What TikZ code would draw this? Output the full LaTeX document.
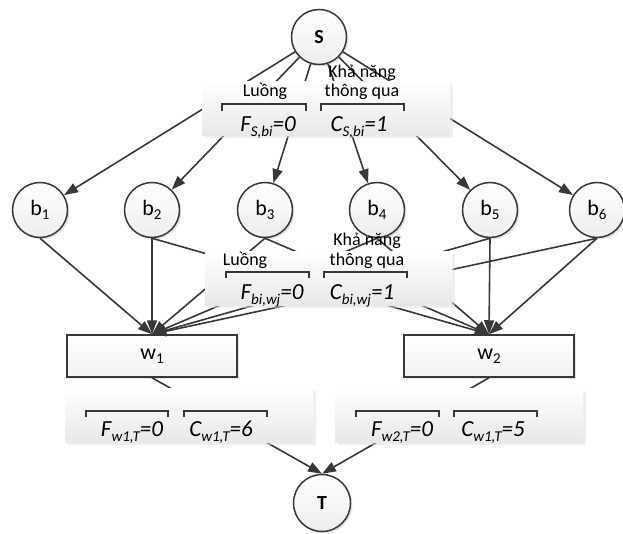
\documentclass[tikz,border=0pt]{standalone}
\usepackage{fontspec}
\setmainfont{Carlito}
\usetikzlibrary{arrows.meta,shadows}
\definecolor{ln}{HTML}{383838}
\newcommand\subx[1]{\raisebox{-5pt}{\fontsize{15}{15}\selectfont #1}}
\newcommand\subn[1]{\raisebox{-4pt}{\fontsize{15}{15}\selectfont #1}}
\begin{document}
\begin{tikzpicture}[x=1pt,y=-1pt,
  circ/.style={circle, draw=ln, line width=1.5pt, minimum size=55pt, inner sep=0pt,
    top color=white, bottom color=black!7,
    drop shadow={shadow xshift=2pt,shadow yshift=-2pt,fill=black!20},
    font=\fontsize{22}{22}\selectfont},
  wbox/.style={rectangle, draw=ln, line width=1.5pt, minimum width=170pt, minimum height=42pt,
    inner sep=0pt, top color=white, bottom color=black!5,
    drop shadow={shadow xshift=2pt,shadow yshift=-2pt,fill=black!20},
    font=\fontsize{22}{22}\selectfont},
  panel/.style={rectangle, inner sep=0pt, minimum width=248pt, minimum height=54pt,
    top color=white, bottom color=black!9,
    drop shadow={shadow xshift=2.5pt,shadow yshift=-2.5pt,fill=black!12}},
  edge/.style={draw=ln, line width=1.6pt, -{Triangle[length=14pt,width=10pt]}},
  brk/.style={draw=ln, line width=1.5pt},
  lbl/.style={font=\fontsize{18}{18}\selectfont, inner sep=0pt, anchor=base},
  val/.style={font=\fontsize{23}{23}\selectfont\itshape, inner sep=0pt, anchor=base}
]
\useasboundingbox (0,0) rectangle (623,534);

% nodes
\node[circ, font=\fontsize{20}{20}\selectfont\bfseries] (S) at (319,37) {S};
\node[circ] (b1) at (40,210) {b\subn{1}};
\node[circ] (b2) at (152,210) {b\subn{2}};
\node[circ] (b3) at (265,210) {b\subn{3}};
\node[circ] (b4) at (377,210) {b\subn{4}};
\node[circ] (b5) at (490,210) {b\subn{5}};
\node[circ] (b6) at (597,210) {b\subn{6}};
\node[wbox] (w1) at (152,356) {w\subn{1}};
\node[wbox] (w2) at (489,356) {w\subn{2}};
\node[circ, minimum size=57pt, font=\fontsize{20}{20}\selectfont\bfseries] (T) at (322,503) {T};

% edges S -> b
\foreach \i in {1,...,6} {\draw[edge] (S) -- (b\i);}
% edges b -> w
\foreach \i in {1,...,6} {\draw[edge] (b\i.south) -- (w1.north);}
\foreach \i in {2,...,6} {\draw[edge] (b\i.south) -- (w2.north);}
% edges w -> T
\draw[edge] (w1.south) -- (T.north);
\draw[edge] (w2.south) -- (T.north);

% panels
\node[panel] (p1) at (326,109) {};
\node[panel, minimum width=247pt, minimum height=53pt] (p2) at (328.5,278.5) {};
\node[panel] (p3) at (189,415) {};
\node[panel] (p4) at (459,415) {};

% top panel
\node[lbl] (t1) at (265,97) {Luồng};
\node[lbl] (t2) at (362,78) {Khả năng};
\node[lbl] (t3) at (362,97) {thông qua};
\draw[brk] (222,111) -- (222,104) -- (306,104) -- (306,111);
\draw[brk] (321,111) -- (321,104) -- (404,104) -- (404,111);
\node[val] (t4) at (268,132) {F\subx{S,bi}=0};
\node[val] (t5) at (359,132) {C\subx{S,bi}=1};

% middle panel
\node[lbl] (m1) at (245,266) {Luồng};
\node[lbl] (m2) at (367,246) {Khả năng};
\node[lbl] (m3) at (367,266) {thông qua};
\draw[brk] (226,278) -- (226,272) -- (309,272) -- (309,278);
\draw[brk] (324,278) -- (324,272) -- (407,272) -- (407,278);
\node[val] (m4) at (272,300) {F\subx{bi,wj}=0};
\node[val] (m5) at (362,300) {C\subx{bi,wj}=1};

% bottom panels
\draw[brk] (86,417) -- (86,411) -- (168,411) -- (168,417);
\draw[brk] (184,417) -- (184,411) -- (267,411) -- (267,417);
\node[val] (q1) at (132,436) {F\subx{w1,T}=0};
\node[val] (q2) at (221,436) {C\subx{w1,T}=6};
\draw[brk] (356,417) -- (356,411) -- (439,411) -- (439,417);
\draw[brk] (454,417) -- (454,411) -- (537,411) -- (537,417);
\node[val] (q3) at (402,436) {F\subx{w2,T}=0};
\node[val] (q4) at (493,436) {C\subx{w1,T}=5};
\end{tikzpicture}
\end{document}
